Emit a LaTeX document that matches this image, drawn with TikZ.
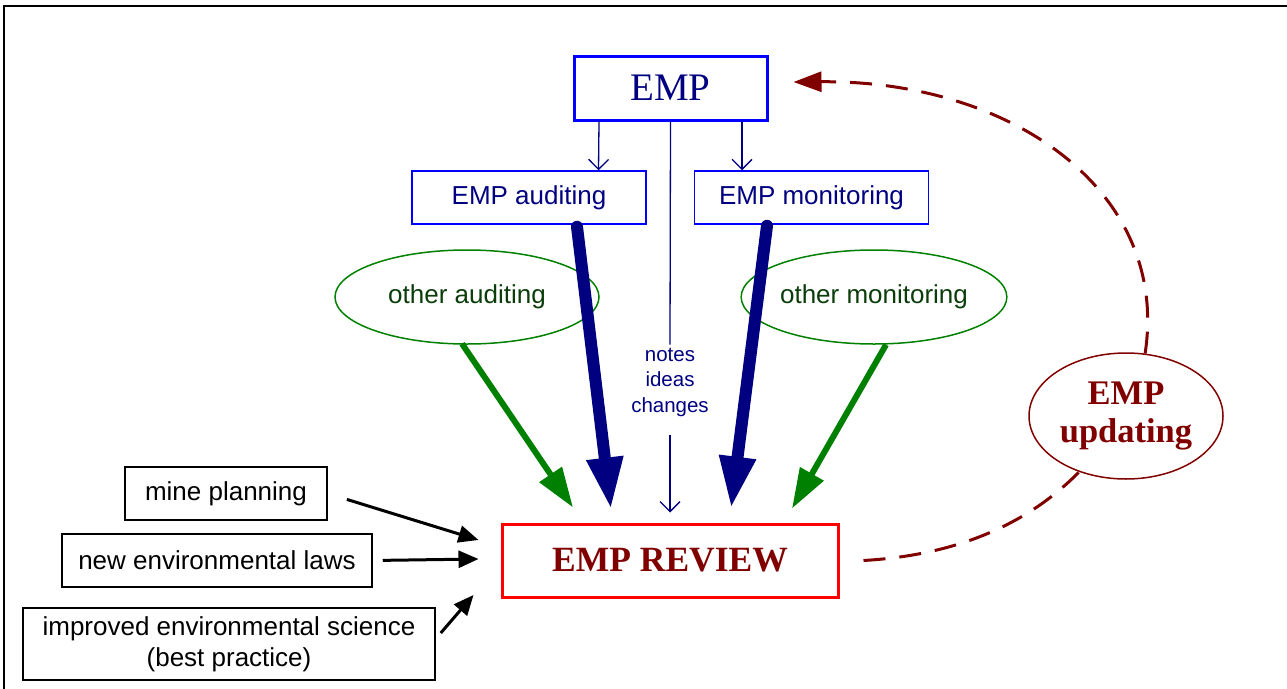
\documentclass[tikz,border=0pt]{standalone}
\usepackage{fontspec}
\setmainfont{Liberation Serif}
\setsansfont{Liberation Sans}
\usetikzlibrary{shapes.geometric,arrows.meta}
\definecolor{navy}{HTML}{000080}
\definecolor{boxblue}{HTML}{0000FF}
\definecolor{leafgreen}{HTML}{008000}
\definecolor{darkgreen}{HTML}{0B3D0B}
\definecolor{maroon}{HTML}{800000}
\definecolor{reviewred}{HTML}{FF0000}
\tikzset{
  sublabel/.style={font=\sffamily\fontsize{26}{31}\selectfont},
  subbox/.style={draw=boxblue, line width=1.5pt, minimum width=234pt, minimum height=53pt,
    inner sep=0pt, text=navy, sublabel},
  otherell/.style={ellipse, draw=leafgreen, line width=1.5pt, minimum width=264pt,
    minimum height=94pt, inner sep=0pt, text=darkgreen, sublabel},
  inputbox/.style={draw=black, line width=1.5pt, inner sep=0pt, align=center, sublabel},
  thinarrow/.style={draw=navy, line width=1.3pt, -{Straight Barb[length=10pt,width=20pt,line width=1.3pt]}},
  bignavy/.style={draw=navy, line width=12pt, line cap=round,
    -{Triangle[length=52pt,width=34pt]}},
  biggreen/.style={draw=leafgreen, line width=6pt, -{Triangle[length=40pt,width=26pt]}},
  blackarrow/.style={draw=black, line width=3pt, -{Triangle[length=20pt,width=17pt]}},
  updatearrow/.style={draw=maroon, line width=3pt, dash pattern=on 22pt off 14pt},
}
\begin{document}
\begin{tikzpicture}[x=1pt,y=-1pt]
\useasboundingbox (0,0) rectangle (1287,688);

% frame
\draw[line width=2.5pt, line cap=rect] (4,688) -- (4,6) -- (1287,6);

% EMP and its two checks
\node[draw=boxblue, line width=3pt, minimum width=193pt, minimum height=64pt, inner sep=0pt,
  text=navy, font=\fontsize{39}{45}\selectfont] (emp) at (670.5,88) {EMP};
\node[subbox] (aud) at (529,197.5) {EMP auditing};
\node[subbox] (mon) at (811.5,197.5) {EMP monitoring};

\node[otherell] (oaud) at (467,297) {other auditing};
\node[otherell] (omon) at (874,297) {other monitoring};

% review
\node[draw=reviewred, line width=3pt, minimum width=336pt, minimum height=73pt, inner sep=0pt,
  text=maroon, font=\bfseries\fontsize{35.5}{40}\selectfont] (review) at (670,560.5) {EMP REVIEW};

% updating
\node[ellipse, draw=maroon, line width=1.5pt, minimum width=194pt, minimum height=126pt,
  inner sep=0pt, text=maroon, align=center, font=\bfseries\fontsize{34.5}{38}\selectfont]
  (upd) at (1126,416) {EMP\\updating};

% notes
\node[text=navy, align=center, inner sep=3pt, font=\sffamily\fontsize{20.5}{25.5}\selectfont]
  (notes) at (670,382) {notes\\ideas\\changes};

% external inputs
\node[inputbox, minimum width=202pt, minimum height=53pt] (mine) at (226,493.5) {mine planning};
\node[inputbox, minimum width=310pt, minimum height=53pt] (laws) at (217,560.5) {new environmental laws};
\node[inputbox, minimum width=412pt, minimum height=72pt] (imp) at (229,644)
  {improved environmental science\\(best practice)};

% EMP to the checks
\draw[thinarrow] ([xshift=-71.5pt]emp.south) -- ([xshift=69.5pt]aud.north);
\draw[thinarrow] ([xshift=71.5pt]emp.south) -- ([xshift=-69.5pt]mon.north);
\draw[navy, line width=1.3pt] (emp.south) -- (notes.north);
\draw[thinarrow, shorten <=16pt] (notes.south) -- ([yshift=10pt]review.north);

% checks into the review
\draw[bignavy] ([xshift=48pt,yshift=-2pt]aud.south) -- ([xshift=-59pt,yshift=13pt]review.north);
\draw[bignavy] ([xshift=-44.5pt,yshift=-1pt]mon.south) -- ([xshift=61pt,yshift=14pt]review.north);
\draw[biggreen] ([xshift=-5pt,yshift=1pt]oaud.south) -- ([xshift=-97pt,yshift=15pt]review.north);
\draw[biggreen] ([xshift=12pt]omon.south) -- ([xshift=122pt,yshift=14pt]review.north);

% external inputs into the review
\draw[blackarrow, shorten <=20pt] (mine.east) -- ([xshift=-22pt,yshift=20.5pt]review.west);
\draw[blackarrow, shorten <=10pt] (laws.east) -- ([xshift=-22pt,yshift=1.5pt]review.west);
\draw[blackarrow] ([xshift=5pt,yshift=11pt]imp.east) -- ([xshift=-27pt,yshift=-34.5pt]review.west);

% updating loop
\draw[updatearrow] ([xshift=24pt]review.east)
  .. controls (960,555) and (1030,522) .. (upd.-130);
\draw[updatearrow, -{Triangle[length=28pt,width=20pt]}] (upd.73)
  .. controls (1170,190) and (1010,80) .. ([xshift=25pt,yshift=6pt]emp.east);
\end{tikzpicture}
\end{document}
